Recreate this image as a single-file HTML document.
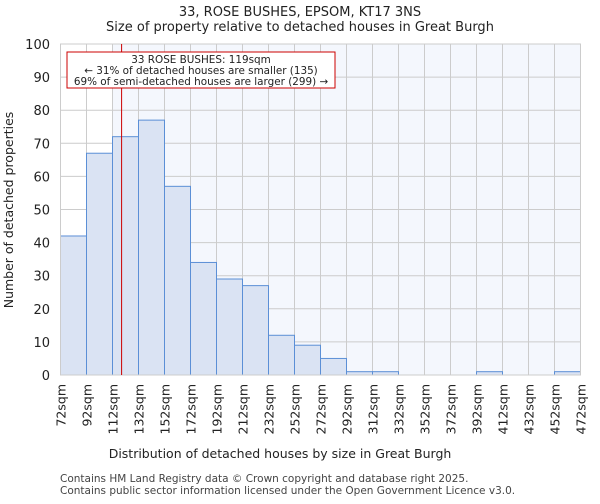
<!DOCTYPE html>
<html><head><meta charset="utf-8"><style>
body{margin:0;background:#fff;font-family:"DejaVu Sans","Liberation Sans",sans-serif}
</style></head><body>
<svg width="600" height="500" xmlns="http://www.w3.org/2000/svg" font-family="DejaVu Sans, Liberation Sans, sans-serif">
<text x="300" y="16" text-anchor="middle" font-size="13" fill="#222">33, ROSE BUSHES, EPSOM, KT17 3NS</text>
<text x="300" y="31" text-anchor="middle" font-size="13" fill="#222">Size of property relative to detached houses in Great Burgh</text>
<g id="plot"></g>
<text x="280" y="458" text-anchor="middle" font-size="12.5" fill="#222">Distribution of detached houses by size in Great Burgh</text>
<text transform="translate(13,210) rotate(-90)" text-anchor="middle" font-size="12.5" fill="#222">Number of detached properties</text>
<text x="60" y="482" font-size="10.5" fill="#444">Contains HM Land Registry data © Crown copyright and database right 2025.</text>
<text x="60" y="494" font-size="10.5" fill="#444">Contains public sector information licensed under the Open Government Licence v3.0.</text>
</svg>
<script>
const binStarts=[72,92,112,132,152,172,192,212,232,252,272,292,312,332,352,372,392,412,432,452];
const counts=[42,67,72,77,57,34,29,27,12,9,5,1,1,0,0,0,1,0,0,1];
const yTicks=[0,10,20,30,40,50,60,70,80,90,100];
const xTickLabels=["72sqm","92sqm","112sqm","132sqm","152sqm","172sqm","192sqm","212sqm","232sqm","252sqm","272sqm","292sqm","312sqm","332sqm","352sqm","372sqm","392sqm","412sqm","432sqm","452sqm","472sqm"];
const propertySize=119;
const ns="http://www.w3.org/2000/svg";
const X0=60.5,X1=580.5,Y0=375,Y1=44,xmin=72,xmax=472,ymax=100;
const xs=v=>X0+(v-xmin)/(xmax-xmin)*(X1-X0);
const ys=v=>Y0-v/ymax*(Y0-Y1);
const g=document.getElementById('plot');
function mk(t,a){const e=document.createElementNS(ns,t);for(const k in a)e.setAttribute(k,a[k]);g.appendChild(e);return e;}
let bg=mk('rect',{x:xs(112),y:Y1,width:X1-xs(112),height:Y0-Y1,fill:'#f4f7fd'});


yTicks.forEach(v=>{
 let l=mk('line',{x1:X0,x2:X1,y1:ys(v),y2:ys(v),stroke:'#cccccc','stroke-width':1});
 
 
 let t=mk('text',{x:50,y:ys(v)+5,'text-anchor':'end','font-size':13,fill:'#222'});
 t.textContent=v;
 
 
});
xTickLabels.forEach((s,i)=>{
 const v=xmin+i*20;
 let l=mk('line',{x1:xs(v),x2:xs(v),y1:Y1,y2:Y0,stroke:'#cccccc','stroke-width':1});
 
 
 let t=mk('text',{x:0,y:0,'text-anchor':'end','font-size':12.5,fill:'#222',transform:`translate(${xs(v)+5},${Y0+9}) rotate(-90)`});
 t.textContent=s;
 
 
});
binStarts.forEach((b,i)=>{
 if(counts[i]<=0)return;
 let r=mk('rect',{x:xs(b),y:ys(counts[i]),width:xs(b+20)-xs(b),height:Y0-ys(counts[i]),fill:'#dae3f3',stroke:'#5b8fd6','stroke-width':1});
 
 
});
let ax=mk('rect',{x:X0,y:Y1,width:X1-X0,height:Y0-Y1,fill:'none',stroke:'#cccccc'});


let pl=mk('line',{x1:xs(propertySize),x2:xs(propertySize),y1:Y1,y2:Y0,stroke:'#cc0000','stroke-width':1});


let box=mk('rect',{x:67,y:52,width:268,height:36,fill:'#fff',stroke:'#cc0000','stroke-width':1});


["33 ROSE BUSHES: 119sqm","← 31% of detached houses are smaller (135)","69% of semi-detached houses are larger (299) →"].forEach((s,i)=>{
 let t=mk('text',{x:201,y:63+i*11,'text-anchor':'middle','font-size':10.4,fill:'#222'});
 t.textContent=s;
 
 
});
</script>
</body></html>
